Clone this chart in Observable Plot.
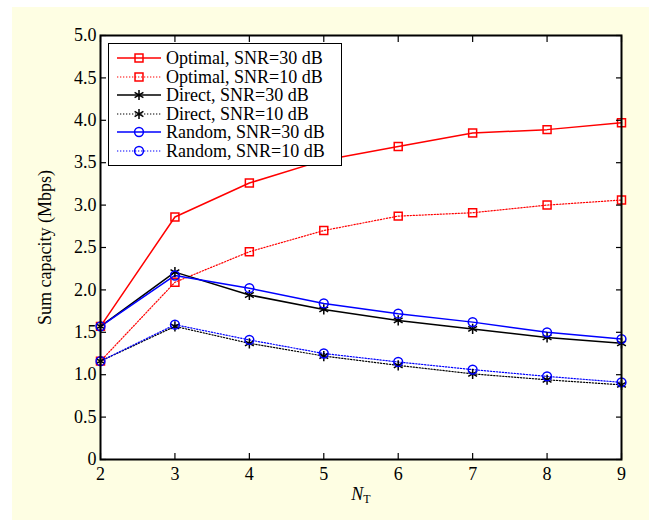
<!DOCTYPE html>
<html>
<head>
<meta charset="utf-8">
<script src="https://cdn.jsdelivr.net/npm/d3@7"></script>
<script src="https://cdn.jsdelivr.net/npm/@observablehq/plot@0.6"></script>
<style>
  html, body { margin: 0; padding: 0; background: #ffffff; }
  #panel { position: absolute; left: 12px; top: 7px; width: 637px; height: 513px; background: #fefee3; }
  #legend { position: absolute; left: 96px; top: 36px; width: 232px; height: 111px; padding: 5px 0;
            background: #ffffff; border: 1px solid #000; font-family: "Liberation Serif", serif; font-size: 18px; }
  .row { display: flex; align-items: center; height: 18.5px; line-height: 18.5px; white-space: nowrap; }
  .row svg { flex: none; }
  .row span { margin-left: 2px; }
</style>
</head>
<body>
<div id="panel"><div id="chart"></div><div id="legend"></div></div>
<script>
// ---- data ----
const nT = [2, 3, 4, 5, 6, 7, 8, 9];
const optimal30 = [1.57, 2.86, 3.26, 3.53, 3.69, 3.85, 3.89, 3.97];
const optimal10 = [1.16, 2.09, 2.45, 2.70, 2.87, 2.91, 3.00, 3.06];
const direct30  = [1.57, 2.21, 1.94, 1.77, 1.64, 1.54, 1.44, 1.37];
const direct10  = [1.16, 1.57, 1.37, 1.22, 1.11, 1.01, 0.94, 0.88];
const random30  = [1.57, 2.17, 2.02, 1.84, 1.72, 1.62, 1.50, 1.42];
const random10  = [1.16, 1.59, 1.41, 1.25, 1.15, 1.06, 0.98, 0.91];
const seriesNames = ["Optimal, SNR=30 dB", "Optimal, SNR=10 dB", "Direct, SNR=30 dB",
                     "Direct, SNR=10 dB", "Random, SNR=30 dB", "Random, SNR=10 dB"];
const yTicks = [0, 0.5, 1, 1.5, 2, 2.5, 3, 3.5, 4, 4.5, 5];
const xLabel = "NT";
const yLabel = "Sum capacity (Mbps)";

// ---- styles ----
const seriesValues = [optimal30, optimal10, direct30, direct10, random30, random10];
const colors = ["#ff0000", "#ff0000", "#000000", "#000000", "#0000ff", "#0000ff"];
const dashed = [false, true, false, true, false, true];
const symbols = ["square", "square", "asterisk", "asterisk", "circle", "circle"];
const radii = [4.5, 4.5, 4.8, 4.8, 4.4, 4.4];

const series = seriesNames.map((name, i) => ({
  name, color: colors[i], dotted: dashed[i], symbol: symbols[i], r: radii[i],
  rows: nT.map((n, j) => ({n, v: seriesValues[i][j]}))
}));

const font = "Liberation Serif";
const marks = [Plot.frame({fill: "white"})];
for (const s of series) {
  marks.push(Plot.line(s.rows, {
    x: "n", y: "v", stroke: s.color,
    strokeWidth: s.dotted ? 1.2 : 1.5,
    strokeDasharray: s.dotted ? "1.3,1.7" : null
  }));
}
for (const s of series) {
  marks.push(Plot.dot(s.rows, {x: "n", y: "v", symbol: s.symbol, r: s.r, stroke: s.color, strokeWidth: 1.5, fill: "none"}));
}
marks.push(
  Plot.axisX({anchor: "bottom", ticks: nT, tickSize: -6, text: null, label: null, strokeWidth: 1.2}),
  Plot.axisX({anchor: "top", ticks: nT, tickSize: -6, text: null, label: null, strokeWidth: 1.2}),
  Plot.axisY({anchor: "left", ticks: yTicks, tickSize: -6, text: null, label: null, strokeWidth: 1.2}),
  Plot.axisY({anchor: "right", ticks: yTicks, tickSize: -6, text: null, label: null, strokeWidth: 1.2}),
  Plot.axisX({anchor: "bottom", ticks: nT, tickSize: 0, tickPadding: 8, tickFormat: d => String(d),
              label: xLabel, labelAnchor: "center", labelOffset: 40, labelArrow: "none"}),
  Plot.axisY({anchor: "left", ticks: yTicks, tickSize: 0, tickPadding: 4,
              tickFormat: d => d === 0 ? "0" : d.toFixed(1),
              label: yLabel, labelAnchor: "center", labelOffset: 62, labelArrow: "none"}),
  Plot.frame({stroke: "black", strokeWidth: 2})
);

const chart = Plot.plot({
  width: 637, height: 513,
  marginLeft: 88, marginRight: 28, marginTop: 28, marginBottom: 61,
  x: {domain: [2, 9]},
  y: {domain: [0, 5]},
  style: {background: "transparent", fontFamily: font, fontSize: "18px", color: "black", overflow: "visible"},
  marks
});
document.getElementById("chart").appendChild(chart);

// subscript formatting for x label
const xl = d3.select(chart).select('g[aria-label="x-axis label"] text');
if (!xl.empty()) {
  xl.text(null);
  xl.append("tspan").attr("font-style", "italic").text(xLabel[0]);
  xl.append("tspan").attr("font-size", "12px").attr("dy", "0.3em").text(xLabel.slice(1));
}

// legend
const legend = d3.select("#legend");
for (const s of series) {
  const row = legend.append("div").attr("class", "row");
  const svg = row.append("svg").attr("width", 55).attr("height", 18);
  svg.append("line").attr("x1", 8).attr("x2", 52).attr("y1", 9).attr("y2", 9)
    .attr("stroke", s.color).attr("stroke-width", s.dotted ? 1.2 : 1.5)
    .attr("stroke-dasharray", s.dotted ? "1.3,1.7" : null);
  const symMap = {square: d3.symbolSquare, circle: d3.symbolCircle, asterisk: d3.symbolAsterisk};
  svg.append("path").attr("transform", "translate(30,9)")
    .attr("d", d3.symbol(symMap[s.symbol], Math.PI * s.r * s.r)())
    .attr("fill", "none").attr("stroke", s.color).attr("stroke-width", 1.5);
  row.append("span").text(s.name);
}
</script>
</body>
</html>
